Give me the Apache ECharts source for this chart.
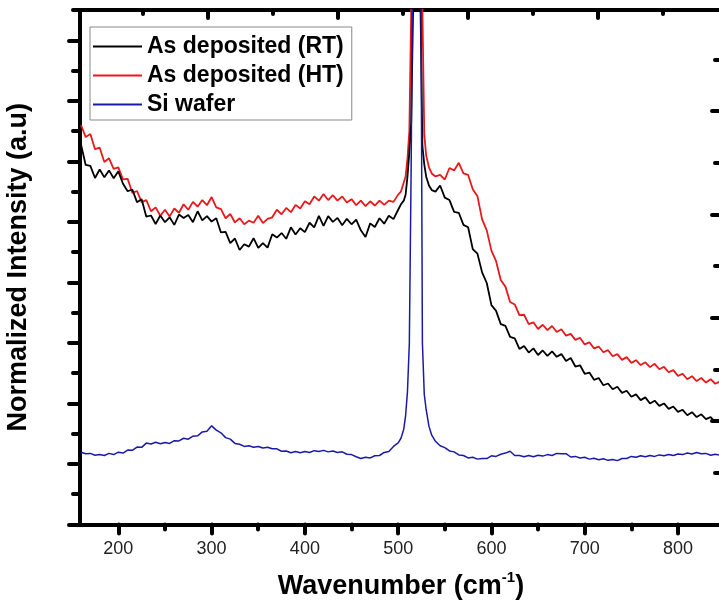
<!DOCTYPE html>
<html>
<head>
<meta charset="utf-8">
<script src="https://cdn.jsdelivr.net/npm/echarts@6/dist/echarts.min.js"></script>
<style>
  html, body { margin: 0; padding: 0; background: #fff; }
  #chart { width: 719px; height: 609px; }
</style>
</head>
<body>
<div id="chart"></div>
<script>
// wavenumber grid (cm-1), 5 cm-1 steps with a denser run around the Si peak
var wn = [160,165,170,175,180,185,190,195,200,205,210,215,220,225,230,235,240,245,250,255,
  260,265,270,275,280,285,290,295,300,305,310,315,320,325,330,335,340,345,350,355,
  360,365,370,375,380,385,390,395,400,405,410,415,420,425,430,435,440,445,450,455,
  460,465,470,475,480,485,490,495,500,
  503,506,508,510,512,514,516,518,520,522,524,526,528,530,533,536,540,
  545,550,555,560,565,570,575,580,585,590,595,600,605,610,615,620,625,630,635,640,
  645,650,655,660,665,670,675,680,685,690,695,700,705,710,715,720,725,730,735,740,
  745,750,755,760,765,770,775,780,785,790,795,800,805,810,815,820,825,830,835,840,845];

// As deposited (RT)
var rt = [12.55,11.88,11.85,11.45,11.73,11.47,11.7,11.44,11.67,11.26,11.01,11.07,10.65,10.75,10.17,10.21,9.93,10.21,9.99,10.15,
  9.9,10.24,10.13,10.23,9.99,10.35,10.05,10.19,10.01,10.12,9.65,9.67,9.3,9.45,9.07,9.26,9.18,9.46,9.14,9.3,
  9.15,9.59,9.48,9.63,9.44,9.82,9.58,9.79,9.66,9.97,9.82,10.2,9.87,10.19,10.0,10.13,9.89,10.1,9.92,10.07,
  9.72,9.5,9.95,9.83,10.12,9.94,10.2,10.09,10.4,
  10.58,10.7,10.9,11.5,12.3,13.3,17,28,36,28,17,12.5,11.9,11.5,11.2,11.05,11.0,
  11.2,10.8,10.72,10.33,10.3,9.9,9.82,9.1,8.95,8.33,7.98,7.25,7.06,6.62,6.56,6.2,6.15,5.8,5.9,5.68,
  5.82,5.6,5.75,5.57,5.72,5.54,5.63,5.4,5.5,5.22,5.26,4.98,5.02,4.78,4.84,4.6,4.66,4.47,4.55,4.35,
  4.42,4.22,4.3,4.11,4.2,4.0,4.09,3.92,4.0,3.82,3.9,3.72,3.79,3.61,3.71,3.55,3.64,3.48,3.55,3.38,3.42];

// As deposited (HT)
var ht = [13.2,12.8,12.9,12.4,12.45,11.98,12.1,11.75,11.8,11.4,11.42,10.96,11.02,10.65,10.72,10.35,10.48,10.2,10.4,10.18,
  10.44,10.3,10.58,10.4,10.66,10.5,10.72,10.55,10.82,10.48,10.42,10.12,10.26,9.98,10.12,9.92,10.04,9.97,10.2,9.96,
  10.1,10.15,10.4,10.25,10.46,10.32,10.56,10.44,10.68,10.58,10.84,10.7,10.92,10.72,10.88,10.7,10.84,10.64,10.75,10.55,
  10.7,10.52,10.68,10.54,10.7,10.56,10.7,10.66,10.9,
  11.0,11.3,11.5,12.1,13.0,17,24,34,42,34,24,17,12.9,12.2,11.8,11.6,11.5,
  11.55,11.4,11.78,11.7,11.95,11.6,11.55,11.08,10.85,10.08,9.72,9.05,8.7,8.08,7.86,7.35,7.27,6.92,6.93,6.62,
  6.68,6.46,6.6,6.42,6.56,6.36,6.45,6.24,6.3,6.1,6.17,5.95,6.02,5.82,5.88,5.69,5.76,5.56,5.63,5.44,
  5.53,5.34,5.43,5.27,5.36,5.2,5.31,5.13,5.21,5.03,5.1,4.91,4.98,4.8,4.9,4.74,4.84,4.69,4.8,4.65,4.72];

// Si wafer
var si = [2.39,2.34,2.35,2.29,2.31,2.28,2.35,2.31,2.39,2.36,2.46,2.45,2.56,2.55,2.69,2.66,2.72,2.67,2.71,2.68,
  2.77,2.76,2.85,2.82,2.92,2.93,3.06,3.08,3.26,3.12,3.03,2.87,2.82,2.68,2.65,2.58,2.6,2.55,2.58,2.53,
  2.55,2.5,2.5,2.42,2.43,2.37,2.41,2.37,2.41,2.38,2.44,2.41,2.45,2.4,2.43,2.38,2.4,2.32,2.31,2.24,
  2.18,2.22,2.2,2.27,2.28,2.38,2.41,2.58,2.7,
  2.85,3.15,3.6,4.4,6.0,12,21,34,42,34,21,6.0,4.3,3.8,3.25,2.95,2.75,
  2.6,2.54,2.43,2.4,2.3,2.28,2.2,2.22,2.16,2.18,2.18,2.27,2.25,2.32,2.36,2.42,2.28,2.28,2.24,2.28,
  2.24,2.29,2.26,2.31,2.28,2.35,2.34,2.34,2.23,2.25,2.2,2.22,2.16,2.19,2.14,2.17,2.12,2.15,2.11,2.18,
  2.18,2.25,2.22,2.27,2.24,2.28,2.25,2.3,2.27,2.31,2.28,2.33,2.31,2.36,2.33,2.38,2.34,2.35,2.29,2.32,2.29];

var xMajor = [200, 300, 400, 500, 600, 700, 800];
var xMinor = [250, 350, 450, 550, 650, 750];

var font = "'Liberation Sans', Arial, sans-serif";

function pairs(vals) {
  return wn.map(function (w, i) { return [w, vals[i]]; });
}

function tickStyle(len, inside, values) {
  return { show: true, inside: inside, customValues: values, length: len,
    lineStyle: { color: '#000', width: 4, cap: 'round' } };
}

var chart = echarts.init(document.getElementById('chart'));

var thick = { color: '#000', width: 4 };
var noLine = { show: false, onZero: false };
var withLine = { show: true, onZero: false, lineStyle: thick };

var option = {
  backgroundColor: '#fff',
  animation: false,
  grid: { left: 80, top: 10, right: -3, bottom: 84.5, outerBoundsMode: 'none' },
  legend: {
    orient: 'vertical',
    left: 90,
    top: 27,
    padding: [8, 8, 4, 3],
    itemGap: 6,
    itemWidth: 49,
    itemHeight: 2,
    icon: 'rect',
    borderColor: '#888',
    borderWidth: 1,
    textStyle: { fontFamily: font, fontWeight: 'bold', fontSize: 23, color: '#000' },
    data: ['As deposited (RT)', 'As deposited (HT)', 'Si wafer']
  },
  xAxis: [
    {
      type: 'value', position: 'bottom', min: 158.9, max: 847.2,
      axisLine: withLine,
      axisTick: tickStyle(9, false, xMajor),
      axisLabel: { customValues: xMajor, margin: 16, fontFamily: font, fontSize: 18, color: '#222' },
      splitLine: { show: false },
      name: '{a|Wavenumber (cm}{s|-1}{a|)}',
      nameLocation: 'middle',
      nameGap: 46,
      nameTextStyle: {
        rich: {
          a: { fontFamily: font, fontWeight: 'bold', fontSize: 27, color: '#000' },
          s: { fontFamily: font, fontWeight: 'bold', fontSize: 15, color: '#000', padding: [0, 0, 18, 0] }
        }
      }
    },
    {
      type: 'value', position: 'bottom', min: 158.9, max: 847.2,
      axisLine: noLine,
      axisTick: tickStyle(5, false, xMinor),
      axisLabel: { show: false },
      splitLine: { show: false }
    },
    {
      type: 'value', position: 'top', min: 0.03, max: 9.907,
      axisLine: withLine,
      axisTick: tickStyle(8, true, [2, 4, 6, 8]),
      axisLabel: { show: false },
      splitLine: { show: false }
    },
    {
      type: 'value', position: 'top', min: 0.03, max: 9.907,
      axisLine: noLine,
      axisTick: tickStyle(4, true, [1, 3, 5, 7, 9]),
      axisLabel: { show: false },
      splitLine: { show: false }
    }
  ],
  yAxis: [
    {
      type: 'value', position: 'left', min: 0, max: 17,
      axisLine: withLine,
      axisTick: tickStyle(11, false, [0, 2, 4, 6, 8, 10, 12, 14, 16]),
      axisLabel: { show: false },
      splitLine: { show: false },
      name: 'Normalized Intensity (a.u)',
      nameLocation: 'middle',
      nameGap: 48,
      nameTextStyle: { fontFamily: font, fontWeight: 'bold', fontSize: 27, color: '#000' }
    },
    {
      type: 'value', position: 'left', min: 0, max: 17,
      axisLine: noLine,
      axisTick: tickStyle(7, false, [1, 3, 5, 7, 9, 11, 13, 15, 17]),
      axisLabel: { show: false },
      splitLine: { show: false }
    },
    {
      type: 'value', position: 'right', min: 0, max: 9.957,
      axisLine: withLine,
      axisTick: tickStyle(10, true, [2, 4, 6, 8]),
      axisLabel: { show: false },
      splitLine: { show: false }
    },
    {
      type: 'value', position: 'right', min: 0, max: 9.957,
      axisLine: noLine,
      axisTick: tickStyle(7, true, [1, 3, 5, 7, 9]),
      axisLabel: { show: false },
      splitLine: { show: false }
    }
  ],
  series: [
    {
      name: 'As deposited (HT)', type: 'line', xAxisIndex: 0, yAxisIndex: 0,
      showSymbol: false, symbol: 'none',
      itemStyle: { color: '#e8191a' },
      lineStyle: { color: '#e8191a', width: 1.8 },
      data: pairs(ht)
    },
    {
      name: 'As deposited (RT)', type: 'line', xAxisIndex: 0, yAxisIndex: 0,
      showSymbol: false, symbol: 'none',
      itemStyle: { color: '#000' },
      lineStyle: { color: '#000', width: 1.8 },
      data: pairs(rt)
    },
    {
      name: 'Si wafer', type: 'line', xAxisIndex: 0, yAxisIndex: 0,
      showSymbol: false, symbol: 'none',
      itemStyle: { color: '#1a1aa8' },
      lineStyle: { color: '#1a1aa8', width: 1.5 },
      data: pairs(si)
    }
  ]
};

chart.setOption(option);
</script>
</body>
</html>
